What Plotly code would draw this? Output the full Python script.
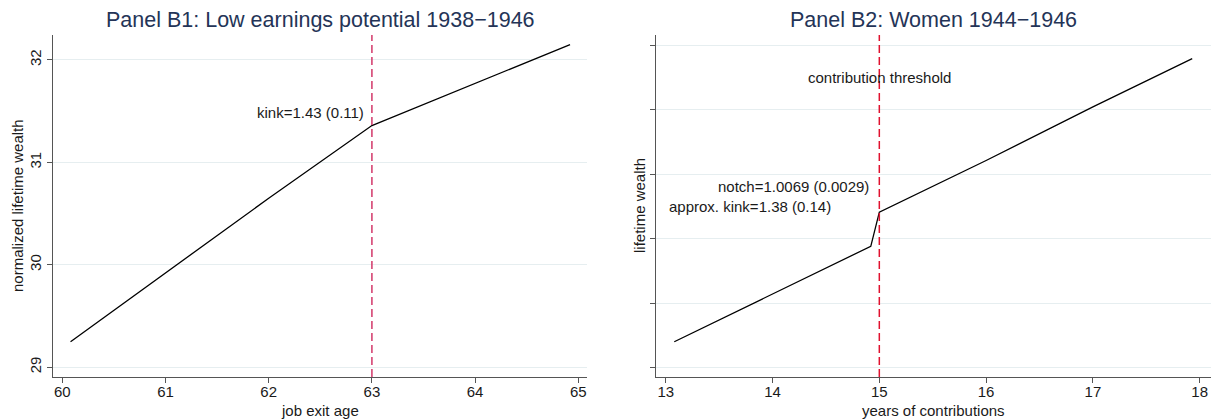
import plotly.graph_objects as go

# ---------------- data ----------------
b1_age = [60.08, 61.0, 62.0, 63.0, 64.0, 64.92]
b1_wealth = [29.25, 29.92, 30.65, 31.36, 31.77, 32.15]
b1_threshold = 63
b1_ticks_x = [60, 61, 62, 63, 64, 65]
b1_ticks_y = [29, 30, 31, 32]
b1_kink_label = "kink=1.43 (0.11)"
b1_kink_pos = (62.94, 31.49)

b2_years = [13.08, 14.0, 14.92, 15.0, 16.0, 17.0, 17.93]
b2_wealth = [0.40, 1.14, 1.88, 2.41, 3.21, 4.04, 4.79]
b2_threshold = 15
b2_ticks_x = [13, 14, 15, 16, 17, 18]
b2_ticks_y = [0, 1, 2, 3, 4, 5]
b2_labels = ["contribution threshold", "notch=1.0069 (0.0029)", "approx. kink=1.38 (0.14)"]
b2_label_pos = [(15.0, 4.50), (14.92, 2.80), (14.57, 2.49)]

titles = ["Panel B1: Low earnings potential 1938\u22121946", "Panel B2: Women 1944\u22121946"]
x_titles = ["job exit age", "years of contributions"]
y_titles = ["normalized lifetime wealth", "lifetime wealth"]

# ---------------- style ----------------
W, H = 1214, 420
FONT = "Liberation Sans, Arial, sans-serif"
TXT = "#1a1a1a"
TITLE_C = "#243457"
GRID = "#E6EEF0"
AXIS = "#555555"

def px_x(p):
    return p / W

def px_y(p):
    return 1 - p / H

fig = go.Figure()

fig.add_trace(go.Scatter(x=b1_age, y=b1_wealth, mode="lines",
                         line=dict(color="black", width=1.3),
                         xaxis="x", yaxis="y", showlegend=False, hoverinfo="skip"))
fig.add_trace(go.Scatter(x=b2_years, y=b2_wealth, mode="lines",
                         line=dict(color="black", width=1.3),
                         xaxis="x2", yaxis="y2", showlegend=False, hoverinfo="skip"))

ydom = [px_y(377), px_y(35)]
common_axis = dict(showline=True, linecolor=AXIS, linewidth=1.2, ticks="outside",
                   ticklen=5, tickcolor=AXIS, tickwidth=1, zeroline=False,
                   tickfont=dict(family=FONT, size=15, color=TXT))

fig.update_layout(
    width=W, height=H,
    margin=dict(l=0, r=0, t=0, b=0),
    paper_bgcolor="white", plot_bgcolor="white",
    font=dict(family=FONT, size=15, color=TXT),
    xaxis=dict(domain=[px_x(52.7), px_x(587.3)], range=[59.907, 65.087],
               tickvals=b1_ticks_x, showgrid=False, anchor="y",
               ticklabelstandoff=-4, **common_axis),
    yaxis=dict(domain=ydom, range=[28.905, 32.244], tickvals=b1_ticks_y,
               tickangle=-90, showgrid=True, gridcolor=GRID, gridwidth=1,
               anchor="x", **common_axis),
    xaxis2=dict(domain=[px_x(655.7), px_x(1210.7)], range=[12.906, 18.103],
                tickvals=b2_ticks_x, showgrid=False, anchor="y2",
                ticklabelstandoff=-4, **common_axis),
    yaxis2=dict(domain=ydom, range=[-0.146, 5.155], tickvals=b2_ticks_y,
                showticklabels=False, showgrid=True, gridcolor=GRID, gridwidth=1,
                anchor="x2", **common_axis),
)

# threshold lines
fig.add_shape(type="line", xref="x", yref="y domain", x0=b1_threshold, x1=b1_threshold,
              y0=0, y1=1, line=dict(color="#D2386A", width=1.5, dash="8px,4px"))
fig.add_shape(type="line", xref="x2", yref="y2 domain", x0=b2_threshold, x1=b2_threshold,
              y0=0, y1=1, line=dict(color="#E0122F", width=1.5, dash="8px,4px"))

ann = []
# panel titles
ann.append(dict(text=titles[0], x=px_x(320), y=px_y(20), xref="paper", yref="paper",
                showarrow=False, xanchor="center", yanchor="middle",
                font=dict(family=FONT, size=21.5, color=TITLE_C)))
ann.append(dict(text=titles[1], x=px_x(933), y=px_y(20), xref="paper", yref="paper",
                showarrow=False, xanchor="center", yanchor="middle",
                font=dict(family=FONT, size=21.5, color=TITLE_C)))
# axis titles
ann.append(dict(text=x_titles[0], x=px_x(320), y=px_y(410.5), xref="paper", yref="paper",
                showarrow=False, xanchor="center", yanchor="middle", font=dict(size=15)))
ann.append(dict(text=x_titles[1], x=px_x(933), y=px_y(410.5), xref="paper", yref="paper",
                showarrow=False, xanchor="center", yanchor="middle", font=dict(size=15)))
ann.append(dict(text=y_titles[0], x=px_x(17), y=px_y(206), xref="paper", yref="paper",
                showarrow=False, xanchor="center", yanchor="middle", textangle=-90,
                font=dict(size=15)))
ann.append(dict(text=y_titles[1], x=px_x(639), y=px_y(206), xref="paper", yref="paper",
                showarrow=False, xanchor="center", yanchor="middle", textangle=-90,
                font=dict(size=15)))
# in-plot labels
ann.append(dict(text=b1_kink_label, x=b1_kink_pos[0], y=b1_kink_pos[1], xref="x", yref="y",
                showarrow=False, xanchor="right", yanchor="middle", font=dict(size=15)))
anchors = ["center", "right", "right"]
for t, (lx, ly), a in zip(b2_labels, b2_label_pos, anchors):
    ann.append(dict(text=t, x=lx, y=ly, xref="x2", yref="y2", showarrow=False,
                    xanchor=a, yanchor="middle", font=dict(size=15)))

fig.update_layout(annotations=ann)

fig.write_html("out.html")
